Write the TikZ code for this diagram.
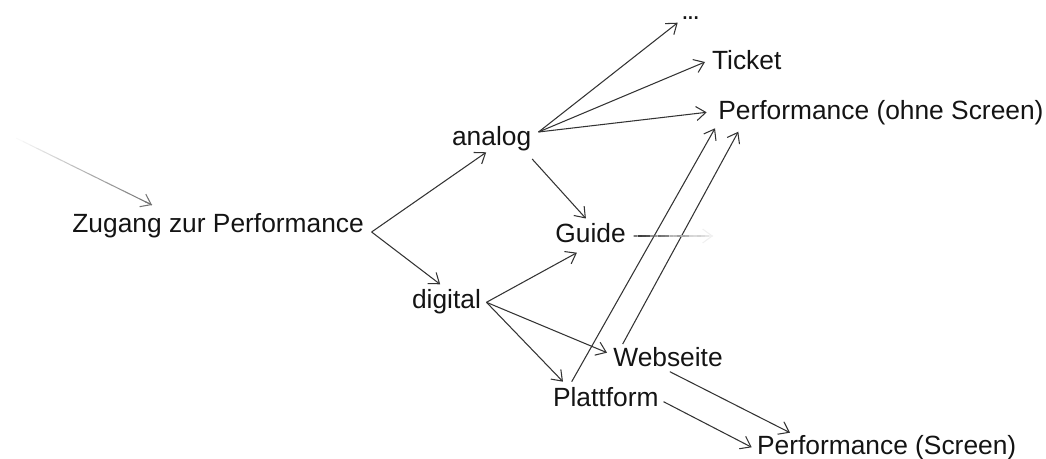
\documentclass[tikz,border=0pt]{standalone}
\usepackage{fontspec}
\setmainfont{Liberation Sans}
\usetikzlibrary{arrows.meta, calc}

\begin{document}
\begin{tikzpicture}[
    x=0.02cm, y=-0.02cm,
    lbl/.style={anchor=base west, inner sep=0pt, font=\fontsize{15}{18}\selectfont, text=black!92},
    arrow/.style={-{Straight Barb[length=1.9mm, width=2.8mm]}, line width=0.6pt, draw=black!80},
    fadeline/.style={line width=0.6pt}
]
\useasboundingbox (0,0) rectangle (1046,459);

% Labels - left and middle
\node[lbl] (zugang) at (72, 233) {Zugang zur Performance};
\node[lbl] (analog) at (451.7, 146) {analog};
\node[lbl] (digital) at (411.7, 309) {digital};
\node[lbl] (guide) at (555, 243) {Guide};
\node[lbl] (webseite) at (613, 367) {Webseite};
\node[lbl] (plattform) at (552.7, 407) {Plattform};

% Labels - right
\node[lbl] (dots) at (681, 19.5) {.\kern-1pt.\kern-1pt.};
\node[lbl] (ticket) at (711.7, 70) {Ticket};
\node[lbl] (perfohne) at (718, 120) {Performance (ohne Screen)};
\node[lbl] (perfscreen) at (756.7, 455) {Performance (Screen)};

% Free ends of the faded arrows
\coordinate (fadestart) at (16, 138);
\coordinate (fadeend) at (152, 205);
\coordinate (guideend) at (713, 236);

% Arrows - Zugang
\draw[arrow] ([shift={(7.4,-1)}]zugang.base east) -- ([shift={(-5.4,6.3)}]analog.base);
\draw[arrow] ([shift={(7.4,-1)}]zugang.base east) -- ([shift={(-6.3,-24.7)}]digital.base);

% Arrows - analog
\draw[arrow] ([shift={(7,-14)}]analog.base east) -- ([shift={(-3.3,3.2)}]dots.base west);
\draw[arrow] ([shift={(7,-14)}]analog.base east) -- ([shift={(-6.7,-8)}]ticket.base west);
\draw[arrow] ([shift={(7,-14)}]analog.base east) -- ([shift={(-11.3,-7.7)}]perfohne.base west);
\draw[arrow] ([shift={(0.6,13)}]analog.base east) -- ([shift={(-4.6,-24.5)}]guide.base);

% Arrows - digital
\draw[arrow] ([shift={(5.2,-6.7)}]digital.base east) -- ([shift={(-13.6,9.7)}]guide.base);
\draw[arrow] ([shift={(5.2,-6.7)}]digital.base east) -- ([shift={(-6,-14.3)}]webseite.base west);
\draw[arrow] ([shift={(5.2,-6.7)}]digital.base east) -- ([shift={(10.3,-25.3)}]plattform.base west);

% Arrows - Plattform and Webseite
\draw[arrow] ([shift={(19,-25.3)}]plattform.base west) -- ([shift={(-3,8.3)}]perfohne.base west);
\draw[arrow] ([shift={(9.7,-23)}]webseite.base west) -- ([shift={(20.3,11.7)}]perfohne.base west);
\draw[arrow] ([shift={(1.8,4.7)}]webseite.base) -- ([shift={(33.3,-22.3)}]perfscreen.base west);
\draw[arrow] ([shift={(4.7,-5.3)}]plattform.base east) -- ([shift={(-5,-7.7)}]perfscreen.base west);

% Faded arrows
\foreach \i [evaluate=\i as \lvl using 2+\i*2.8] in {0,...,19}
  \draw[fadeline, draw=black!\lvl] ($(fadestart)!\i/20!(fadeend)$) -- ($(fadestart)!\i/20+0.05!(fadeend)$);
\draw[arrow, draw=black!55] ($(fadestart)!0.95!(fadeend)$) -- (fadeend);

\coordinate (guidestart) at ([shift={(7.7,-7)}]guide.base east);
\foreach \i [evaluate=\i as \lvl using 80-\i*3.9] in {0,...,19}
  \draw[fadeline, draw=black!\lvl] ($(guidestart)!\i/20!(guideend)$) -- ($(guidestart)!\i/20+0.05!(guideend)$);
\draw[arrow, draw=black!6] ($(guidestart)!0.95!(guideend)$) -- (guideend);

\end{tikzpicture}
\end{document}
